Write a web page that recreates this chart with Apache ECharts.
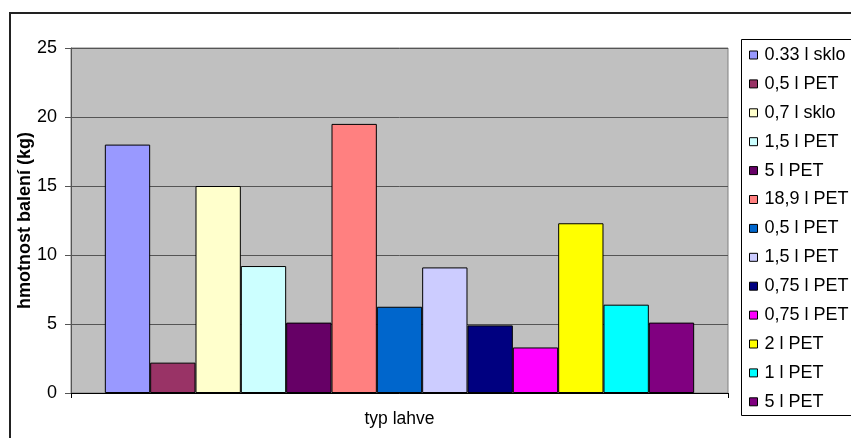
<!DOCTYPE html>
<html>
<head>
<meta charset="utf-8">
<script src="https://cdn.jsdelivr.net/npm/echarts@6/dist/echarts.min.js"></script>
<style>
  html, body { margin: 0; padding: 0; background: #fff; }
  #chart { width: 851px; height: 438px; }
</style>
</head>
<body>
<div id="chart"></div>
<script>
// Bottle types and package weights (kg)
const categories = ['typ lahve'];
const seriesNames = ['0.33 l sklo', '0,5 l PET', '0,7 l sklo', '1,5 l PET', '5 l PET', '18,9 l PET',
  '0,5 l PET', '1,5 l PET', '0,75 l PET', '0,75 l PET', '2 l PET', '1 l PET', '5 l PET'];
const seriesValues = [18, 2.2, 15, 9.2, 5.1, 19.5, 6.25, 9.1, 4.9, 3.3, 12.3, 6.4, 5.1];
const seriesColors = ['#9999FF', '#993366', '#FFFFCC', '#CCFFFF', '#660066', '#FF8080',
  '#0066CC', '#CCCCFF', '#000080', '#FF00FF', '#FFFF00', '#00FFFF', '#800080'];
const yTicks = { min: 0, max: 25, interval: 5 };

const FONT = '"Liberation Sans", Arial, sans-serif';
const chart = echarts.init(document.getElementById('chart'), null, { renderer: 'canvas' });

// ECharts legend keeps one entry per unique name, so give each entry a unique id
// (zero-width suffix) while drawing the same visible label.
const uniqueNames = seriesNames.map((n, i) => n + '\u200B'.repeat(i));

const series = seriesValues.map((v, i) => ({
  name: uniqueNames[i],
  type: 'bar',
  data: [v],
  barGap: '0%',
  barCategoryGap: '10.3%',
  itemStyle: { color: seriesColors[i], borderColor: '#000', borderWidth: 1 },
  emphasis: { disabled: true }
}));

chart.setOption({
  animation: false,
  textStyle: { fontFamily: FONT },
  grid: {
    left: 71, right: 123, top: 48, bottom: 45,
    show: true, backgroundColor: '#C0C0C0', borderColor: '#808080', borderWidth: 1
  },
  xAxis: {
    type: 'category',
    data: categories,
    axisLine: { lineStyle: { color: '#000', width: 1 } },
    axisTick: { show: true, length: 5, lineStyle: { color: '#000' } },
    axisLabel: { color: '#000', fontSize: 17.5, fontFamily: FONT, margin: 17 },
    splitLine: { show: false }
  },
  yAxis: {
    type: 'value',
    min: yTicks.min, max: yTicks.max, interval: yTicks.interval,
    name: 'hmotnost balení (kg)',
    nameLocation: 'middle',
    nameGap: 37,
    nameMoveOverlap: false,
    nameRotate: 90,
    nameTextStyle: { color: '#000', fontSize: 18, fontWeight: 'bold', fontFamily: FONT },
    axisLine: { show: true, lineStyle: { color: '#555', width: 1 } },
    axisTick: { show: true, length: 6, lineStyle: { color: '#555' } },
    axisLabel: { color: '#000', fontSize: 18, fontFamily: FONT, margin: 14 },
    splitLine: { show: true, lineStyle: { color: '#555', width: 1 } }
  },
  legend: {
    orient: 'vertical',
    left: 749, top: 46,
    padding: 0,
    icon: 'rect',
    itemWidth: 8, itemHeight: 8,
    itemGap: 10.9,
    itemStyle: { borderColor: '#000', borderWidth: 1 },
    textStyle: { color: '#000', fontSize: 18, fontFamily: FONT, padding: [0, 0, 0, 2] },
    formatter: name => name.replace(/\u200B/g, ''),
    selectedMode: false,
    data: uniqueNames
  },
  graphic: [
    { type: 'rect', shape: { x: 10, y: 13, width: 900, height: 500 },
      style: { fill: 'none', stroke: '#222', lineWidth: 2 }, silent: true },
    { type: 'rect', shape: { x: 741.5, y: 39.5, width: 200, height: 376 },
      style: { fill: 'none', stroke: '#000', lineWidth: 1 }, silent: true }
  ],
  series: series
});
</script>
</body>
</html>
